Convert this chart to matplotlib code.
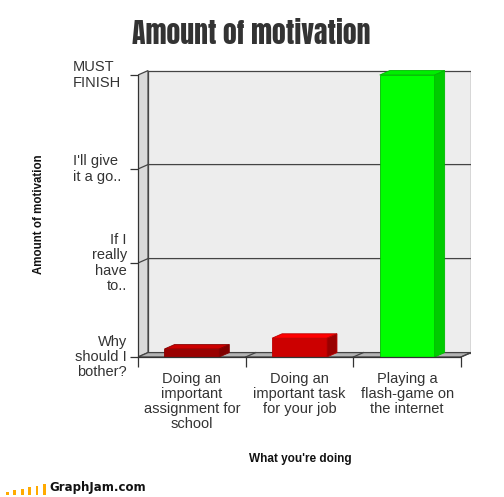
import matplotlib.pyplot as plt
from matplotlib.patches import Polygon, Rectangle

plt.rcParams['font.family'] = ['Liberation Sans', 'DejaVu Sans']

# data
categories = ['Doing an\nimportant\nassignment for\nschool',
              'Doing an\nimportant task\nfor your job',
              'Playing a\nflash-game on\nthe internet']
values = [0.085, 0.2, 3.0]
level_labels = ['Why\nshould I\nbother?', 'If I\nreally\nhave\nto..',
                "I'll give\nit a go..", 'MUST\nFINISH']
label_align = ['right', 'right', 'left', 'left']

front_colors = ['#990000', '#cc0000', '#00ff00']
top_colors = ['#cc0000', '#ff0000', '#00ee00']
side_colors = ['#800000', '#990000', '#00cc00']
edge_colors = ['#880000', '#bb0000', '#00bb00']

logo_heights = [3.5, 5, 6.5, 8, 9.5, 11]

W, H = 504, 497
fig = plt.figure(figsize=(W / 100, H / 100), dpi=100)
ax = fig.add_axes([138 / W, 140 / H, 333 / W, 287 / H])
ax.set_xlim(0, 3 * 333 / 323)
ax.set_ylim(0, 287 / 94)

dx, dy = 0.093, 0.047   # depth offset
n = len(categories)
top = len(level_labels) - 1
line = '#444444'

# walls and floor
ax.add_patch(Polygon([(dx, dy), (n + dx, dy), (n + dx, top + dy), (dx, top + dy)],
                     closed=True, fc='#ededed', ec=line, lw=0.9, zorder=0.5))
ax.add_patch(Polygon([(0, 0), (dx, dy), (dx, top + dy), (0, top)],
                     closed=True, fc='#d9d9d9', ec=line, lw=0.9, zorder=0.6))
ax.add_patch(Polygon([(0, 0), (n, 0), (n + dx, dy), (dx, dy)],
                     closed=True, fc='#b3b3b3', ec=line, lw=0.9, zorder=0.6))
for k in range(1, top):
    ax.plot([0, dx, n + dx], [k, k + dy, k + dy], color=line, lw=0.9, zorder=1)
for k in range(1, n + 1):
    ax.plot([k, k + dx], [0, dy], color=line, lw=0.9, zorder=1)

# bars
x = [i + 0.5 for i in range(n)]
width = 0.51
bars = ax.bar(x, values, width=width, color=front_colors, edgecolor=edge_colors,
              linewidth=0.6, zorder=3)
for b, tc, sc, ec in zip(bars, top_colors, side_colors, edge_colors):
    x0, x1, v = b.get_x(), b.get_x() + b.get_width(), b.get_height()
    ax.add_patch(Polygon([(x0, v), (x1, v), (x1 + dx, v + dy), (x0 + dx, v + dy)],
                         closed=True, fc=tc, ec=ec, lw=0.6, zorder=3))
    ax.add_patch(Polygon([(x1, 0), (x1 + dx, dy), (x1 + dx, v + dy), (x1, v)],
                         closed=True, fc=sc, ec=ec, lw=0.6, zorder=3))

# axes
for s in ['top', 'right']:
    ax.spines[s].set_visible(False)
ax.spines['left'].set_bounds(0, top)
ax.spines['bottom'].set_bounds(0, n)
for s in ['left', 'bottom']:
    ax.spines[s].set_color('#333333')
    ax.spines[s].set_linewidth(0.9)
    ax.spines[s].set_zorder(4)

ax.set_yticks(range(len(level_labels)))
ax.set_yticklabels([])
ax.tick_params(axis='y', length=6, width=0.9, color='#333333')
ax.set_xticks(range(n + 1))
ax.set_xticklabels([])
ax.tick_params(axis='x', which='major', length=7.5, width=0.9, color='#333333')
ax.set_xticks(x, minor=True)
ax.set_xticklabels(categories, minor=True, fontsize=10.5, color='#333333',
                   linespacing=1.1)
ax.tick_params(axis='x', which='minor', length=0, pad=10.5)

ytr = ax.get_yaxis_transform()
for k, (lab, al) in enumerate(zip(level_labels, label_align)):
    xp = (73 - 138) / 333 if al == 'left' else (127 - 138) / 333
    ax.text(xp, k, lab, transform=ytr, ha=al, va='center', fontsize=10.5,
            color='#333333', linespacing=1.1, multialignment=al)

fig.text(39 / W, 1 - 214 / H, 'Amount of motivation', rotation=90, ha='center',
         va='center', fontsize=8.3, fontweight='bold', color='#111111')
fig.text(300 / W, 1 - 459 / H, "What you're doing", ha='center', va='center',
         fontsize=8.5, fontweight='bold', color='#111111')
fig.text(251 / W, 1 - 34 / H, 'Amount of motivation', ha='center', va='center',
         fontsize=20, color='#333333', family=['Anton', 'DejaVu Sans'])

# logo
for i, h in enumerate(logo_heights):
    fig.patches.append(Rectangle(((6 + 7.4 * i) / W, 2 / H), 2.8 / W, h / H,
                                 transform=fig.transFigure, fc='#ffaa00', ec='none'))
fig.text(49 / W, 3 / H, 'GraphJam.com', ha='left', va='bottom', fontsize=8.5,
         fontweight='bold', color='#111111', family=['DejaVu Sans'])

fig.savefig('out.png', dpi=100)
